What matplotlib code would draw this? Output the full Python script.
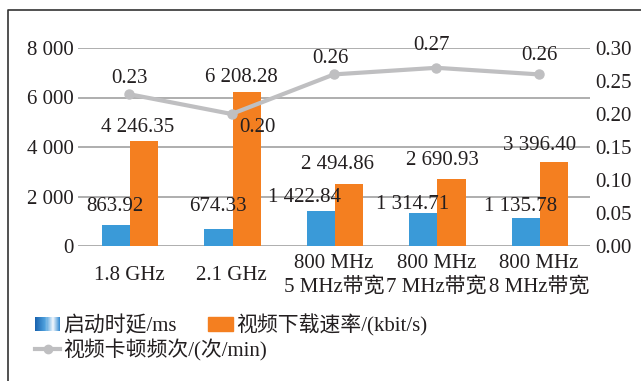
import matplotlib.pyplot as plt
from matplotlib.colors import LinearSegmentedColormap
from matplotlib.legend_handler import HandlerBase
from matplotlib.lines import Line2D
from matplotlib.patches import Patch, Rectangle

plt.rcParams['font.family'] = ['Liberation Serif', 'Noto Sans CJK SC']
plt.rcParams['text.color'] = '#231f20'
plt.rcParams['xtick.color'] = '#231f20'
plt.rcParams['ytick.color'] = '#231f20'

bands = ['1.8 GHz', '2.1 GHz', '800 MHz\n5 MHz带宽', '800 MHz\n7 MHz带宽', '800 MHz\n8 MHz带宽']
startup_delay = [863.92, 674.33, 1422.84, 1314.71, 1135.78]
download_rate = [4246.35, 6208.28, 2494.86, 2690.93, 3396.40]
stall_freq = [0.23, 0.20, 0.26, 0.27, 0.26]

left_ticks = [0, 2000, 4000, 6000, 8000]
right_ticks = [0.00, 0.05, 0.10, 0.15, 0.20, 0.25, 0.30]

BLUE = '#3a9ad8'
ORANGE = '#f47f20'
GRAY = '#bfbfc1'
FS = 15


def fmt(v):
    return f'{v:,.2f}'.replace(',', ' ')


class GradientPatchHandler(HandlerBase):
    # blue swatch with a light sheen, drawn as thin vertical strips
    cmap = LinearSegmentedColormap.from_list(
        'sheen', [(0, '#1a64b0'), (0.4, '#4d9fdc'), (0.72, '#f2f7fc'), (1, '#3a8ed3')])

    def create_artists(self, legend, orig_handle, xdescent, ydescent,
                       width, height, fontsize, trans):
        n = 24
        strips = []
        for k in range(n):
            r = Rectangle((-xdescent + width * k / n, -ydescent), width / n + 0.3, height,
                          facecolor=self.cmap(k / (n - 1)), edgecolor='none', transform=trans)
            strips.append(r)
        return strips


fig = plt.figure(figsize=(6.41, 3.81), dpi=100)
ax = fig.add_axes([78 / 641, 1 - 246 / 381, (590 - 78) / 641, (246 - 48) / 381])
ax2 = ax.twinx()

x = list(range(len(bands)))
w = 0.275
ax.bar([i - w / 2 + 0.01 for i in x], startup_delay, w, color=BLUE, zorder=2)
ax.bar([i + w / 2 + 0.01 for i in x], download_rate, w, color=ORANGE, zorder=2)
ax.set_xlim(-0.5, 4.5)
ax.set_ylim(0, 8000)
ax.set_yticks(left_ticks)
ax.set_yticklabels([f'{v:,}'.replace(',', ' ') for v in left_ticks], fontsize=FS)
ax.set_xticks(x)
ax.set_xticklabels(bands, fontsize=FS, linespacing=1.2)
for t in ax.get_xticklabels():
    t.set_va('center')
ax.tick_params(axis='x', length=0, pad=21)
ax.tick_params(axis='y', length=0, pad=3)
ax.grid(axis='y', color='#a8a8a8', lw=1.3, zorder=0)
for s in ax.spines.values():
    s.set_visible(False)

ax2.plot(x, stall_freq, color=GRAY, lw=3, marker='o', ms=6.5, zorder=3)
ax2.set_ylim(0, 0.30)
ax2.set_yticks(right_ticks)
ax2.set_yticklabels([f'{v:.2f}' for v in right_ticks], fontsize=FS)
ax2.tick_params(axis='y', length=0, pad=4)
for s in ax2.spines.values():
    s.set_visible(False)

# value labels
blue_off = [(0, 18), (0, 23), (-15, 13), (-10, 9), (-4, 11)]
for i, v in enumerate(startup_delay):
    ax.annotate(fmt(v), (i - w / 2, v), xytext=blue_off[i], textcoords='offset pixels',
                ha='center', va='center', fontsize=FS, zorder=4)
orange_off = [(-6, 13), (-4, 15), (-11, 20), (-8, 19), (-13, 16)]
for i, v in enumerate(download_rate):
    ax.annotate(fmt(v), (i + w / 2, v), xytext=orange_off[i], textcoords='offset pixels',
                ha='center', va='center', fontsize=FS, zorder=4)
line_off = [(0, 16), (26, -13), (-4, 16), (-5, 22), (1, 19)]
for i, v in enumerate(stall_freq):
    ax2.annotate(f'{v:.2f}', (i, v), xytext=line_off[i], textcoords='offset pixels',
                 ha='center', va='center', fontsize=FS, zorder=4)

# legend
h1 = Patch(color=BLUE)
h2 = Patch(color=ORANGE)
h3 = Line2D([], [], color=GRAY, lw=3, marker='o', ms=6)
fig.legend([h1, h2], ['启动时延/ms', '视频下载速率/(kbit/s)'], ncol=2,
           loc='center left', bbox_to_anchor=(35 / 641, 1 - 325 / 381),
           frameon=False, fontsize=FS, handlelength=1.2, handleheight=0.67,
           handletextpad=0.15, columnspacing=1.5, borderaxespad=0, borderpad=0,
           handler_map={h1: GradientPatchHandler()})
fig.legend([h3], ['视频卡顿频次/(次/min)'], loc='center left',
           bbox_to_anchor=(35 / 641, 1 - 350 / 381), frameon=False, fontsize=FS,
           handlelength=1.2, handletextpad=0.15, borderaxespad=0, borderpad=0)

# outer frame, left and top edges
fig.add_artist(Line2D([8 / 641, 8 / 641, 1.0], [0, 1 - 10 / 381, 1 - 10 / 381],
                      transform=fig.transFigure, color='#333333', lw=1.2))

fig.savefig('out.png', dpi=100)
